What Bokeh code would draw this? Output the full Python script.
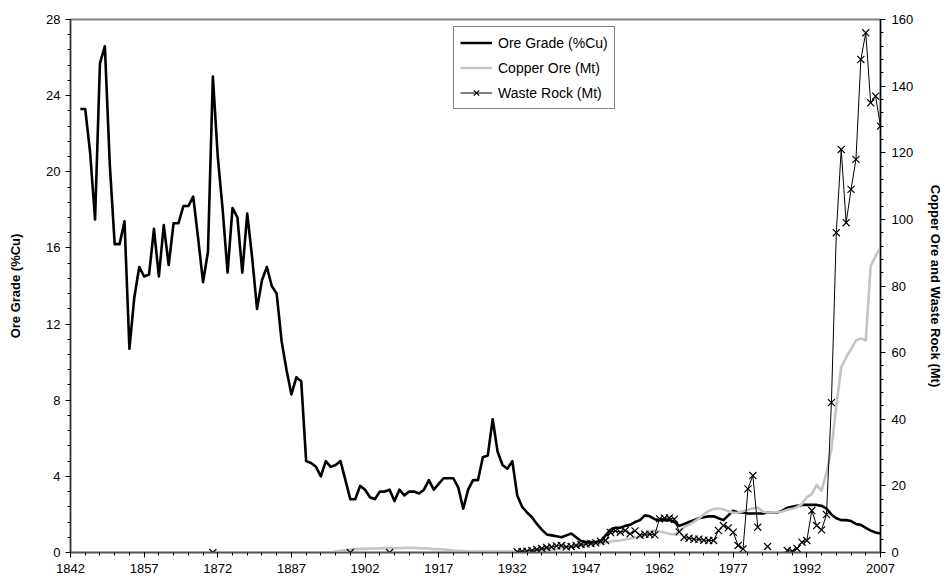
import math
from bokeh.plotting import figure
from bokeh.models import Range1d, LinearAxis, FixedTicker, Legend, LegendItem
from bokeh.embed import file_html
from bokeh.resources import INLINE

# ---------------- data ----------------
years = list(range(1844, 2008))

ore_grade = [
    23.3, 23.3, 21.0, 17.5, 25.7, 26.6, 20.4, 16.2, 16.2, 17.4,   # 1844-1853
    10.7, 13.4, 15.0, 14.5, 14.6, 17.0, 14.5, 17.2, 15.1, 17.3,   # 1854-1863
    17.3, 18.2, 18.2, 18.7, 16.5, 14.2, 15.8, 25.0, 20.8, 18.0,   # 1864-1873
    14.7, 18.1, 17.6, 14.7, 17.8, 15.5, 12.8, 14.3, 15.0, 14.0,   # 1874-1883
    13.6, 11.1, 9.6, 8.3, 9.2, 9.0, 4.8, 4.7, 4.5, 4.0,           # 1884-1893
    4.8, 4.5, 4.6, 4.8, 3.8, 2.8, 2.8, 3.5, 3.3, 2.9,             # 1894-1903
    2.8, 3.2, 3.2, 3.3, 2.7, 3.3, 3.0, 3.2, 3.2, 3.1,             # 1904-1913
    3.3, 3.8, 3.3, 3.6, 3.9, 3.9, 3.9, 3.4, 2.3, 3.3,             # 1914-1923
    3.8, 3.8, 5.0, 5.1, 7.0, 5.3, 4.6, 4.4, 4.8, 3.0,             # 1924-1933
    2.4, 2.1, 1.85, 1.5, 1.2, 0.95, 0.9, 0.85, 0.8, 0.9,          # 1934-1943
    1.0, 0.8, 0.6, 0.55, 0.55, 0.55, 0.6, 0.9, 1.2, 1.3,          # 1944-1953
    1.3, 1.4, 1.45, 1.6, 1.7, 1.95, 1.9, 1.75, 1.7, 1.7,          # 1954-1963
    1.7, 1.6, 1.4, 1.5, 1.6, 1.7, 1.8, 1.85, 1.9, 1.9,            # 1964-1973
    1.8, 1.7, 1.95, 2.2, 2.1, 2.1, 2.05, 2.05, 2.05, 2.05,        # 1974-1983
    2.1, 2.1, 2.1, 2.2, 2.35, 2.4, 2.45, 2.5, 2.5, 2.5,           # 1984-1993
    2.5, 2.45, 2.3, 2.0, 1.8, 1.7, 1.7, 1.65, 1.5, 1.45,          # 1994-2003
    1.3, 1.15, 1.05, 1.0,                                          # 2004-2007
]

copper_ore = [0.0] * 52 + [                                        # 1844-1895
    0.3, 0.5, 0.7, 0.9, 1.0, 1.1, 1.1, 1.2,                        # 1896-1903
    1.2, 1.2, 1.3, 1.3, 1.3, 1.3, 1.4, 1.4, 1.4, 1.3,              # 1904-1913
    1.2, 1.2, 1.0, 1.0, 0.9, 0.8, 0.6, 0.5, 0.4, 0.3,              # 1914-1923
    0.3, 0.3, 0.3, 0.3, 0.3, 0.3, 0.3, 0.3, 0.3, 0.4,              # 1924-1933
    0.5, 0.6, 0.6, 0.7, 0.8, 0.9, 1.0, 1.1, 1.3, 1.4,              # 1934-1943
    1.6, 1.8, 2.0, 2.2, 2.4, 2.6, 2.8, 3.0, 3.3, 3.5,              # 1944-1953
    3.6, 3.9, 4.2, 4.5, 4.7, 5.3, 6.2, 6.6, 6.3, 6.0,              # 1954-1963
    5.6, 5.4, 6.5, 7.6, 8.3, 9.2, 10.2, 11.5, 12.4, 13.1,          # 1964-1973
    13.2, 13.0, 12.3, 11.9, 12.0, 12.4, 12.8, 13.2, 13.5, 12.3,    # 1974-1983
    12.0, 12.1, 12.1, 12.3, 12.8, 13.1, 13.6, 14.6, 16.6, 17.5,    # 1984-1993
    20.3, 18.5, 24.0, 31.0, 44.0, 55.6, 58.6, 61.0, 63.7, 64.2,    # 1994-2003
    63.7, 86.0, 89.0, 91.5,                                        # 2004-2007
]

early_waste_years = [1871, 1899, 1907]
early_waste_rock = [0.0, 0.0, 0.0]

waste_years = list(range(1933, 2008))
waste_rock = [
    0.2, 0.3, 0.4, 0.6, 0.9, 1.2, 1.5, 1.7, 2.0, 2.1,              # 1933-1942
    1.7, 1.8, 2.1, 2.4, 2.6, 2.7, 2.9, 3.3, 3.6, 6.0,              # 1943-1952
    6.5, 6.1, 6.6, 5.6, 6.5, 5.2, 5.5, 5.5, 5.3, 10.1,             # 1953-1962
    10.3, 10.4, 10.0, 6.2, 4.6, 4.3, 4.0, 4.0, 3.7, 3.6,           # 1963-1972
    3.6, 6.6, 8.1, 7.4, 6.1, 2.1, 1.1, 19.1, 23.1, 7.6,            # 1973-1982
    None, 1.8, None, None, None, 0.6, 0.4, 1.2, 3.1, 3.6,          # 1983-1992
    12.6, 8.1, 6.8, 11.4, 45.0, 96.0, 121.0, 99.0, 109.0, 118.0,   # 1993-2002
    148.0, 156.0, 135.0, 137.0, 128.0,                             # 2003-2007
]

x_ticks = list(range(1842, 2008, 15))
grade_ticks = list(range(0, 29, 4))
mt_ticks = list(range(0, 161, 20))

# ---------------- figure ----------------
FONT = "Liberation Sans"

p = figure(width=946, height=578, output_backend="svg", toolbar_location=None,
           x_range=Range1d(1842, 2007), y_range=Range1d(0, 28),
           min_border_left=70, min_border_right=66, min_border_top=19, min_border_bottom=26)
p.extra_y_ranges = {"mt": Range1d(0, 160)}
p.xgrid.visible = False
p.ygrid.visible = False
p.outline_line_color = "#808080"
p.outline_line_width = 2
p.background_fill_color = "white"
p.border_fill_color = "white"

def style_axis(ax):
    ax.major_label_text_font = FONT
    ax.major_label_text_font_size = "13px"
    ax.major_label_text_color = "black"
    ax.axis_label_text_font = FONT
    ax.axis_label_text_font_size = "13px"
    ax.axis_label_text_font_style = "bold"
    ax.axis_label_text_color = "black"
    ax.axis_line_color = "black"
    ax.axis_line_width = 1.3
    ax.major_tick_line_color = "black"
    ax.minor_tick_line_color = "black"
    ax.major_tick_in = 0
    ax.minor_tick_in = 0
    ax.major_tick_out = 5
    ax.minor_tick_out = 3

xa = p.xaxis[0]
style_axis(xa)
xa.ticker = FixedTicker(ticks=x_ticks, minor_ticks=list(range(1842, 2008, 3)))
xa.major_label_standoff = 6
xa.axis_line_color = "#555555"

ya = p.yaxis[0]
style_axis(ya)
ya.ticker = FixedTicker(ticks=grade_ticks, minor_ticks=[i * 0.8 for i in range(36)])
ya.axis_label = "Ore Grade (%Cu)"
ya.major_label_standoff = 5
ya.axis_label_standoff = 20
ya.axis_line_color = "#333333"

ra = LinearAxis(y_range_name="mt", axis_label="Copper Ore and Waste Rock (Mt)")
style_axis(ra)
ra.ticker = FixedTicker(ticks=mt_ticks, minor_ticks=list(range(0, 161, 4)))
ra.major_label_standoff = 6
ra.axis_label_standoff = 12
p.add_layout(ra, "right")

# ---------------- glyphs ----------------
grade_r = p.line(years, ore_grade, line_color="black", line_width=2.6, line_join="round")
ore_r = p.line(years, copper_ore, line_color="#c4c4c4", line_width=2.6, line_join="round",
               y_range_name="mt")

wl = [float("nan") if v is None else v for v in waste_rock]
waste_line = p.line(waste_years, wl, line_color="black", line_width=1.0, y_range_name="mt")

sc_years = early_waste_years + [y for y, v in zip(waste_years, waste_rock) if v is not None]
sc_vals = early_waste_rock + [v for v in waste_rock if v is not None]
waste_pts = p.scatter(sc_years, sc_vals, marker="x", size=10, line_color="black", line_width=1.2,
                      y_range_name="mt")

legend = Legend(items=[
    LegendItem(label="Ore Grade (%Cu)", renderers=[grade_r]),
    LegendItem(label="Copper Ore (Mt)", renderers=[ore_r]),
    LegendItem(label="Waste Rock (Mt)", renderers=[waste_line, waste_pts]),
], location=(383, 443))
legend.label_text_font = FONT
legend.label_text_font_size = "14px"
legend.label_text_color = "black"
legend.border_line_color = "black"
legend.border_line_width = 1
legend.background_fill_color = "white"
legend.background_fill_alpha = 1
legend.glyph_width = 32
legend.glyph_height = 19
legend.label_height = 19
legend.spacing = 6
legend.padding = 6
legend.label_standoff = 6
legend.margin = 0
p.add_layout(legend)

open("out.html", "w").write(file_html(p, INLINE))
